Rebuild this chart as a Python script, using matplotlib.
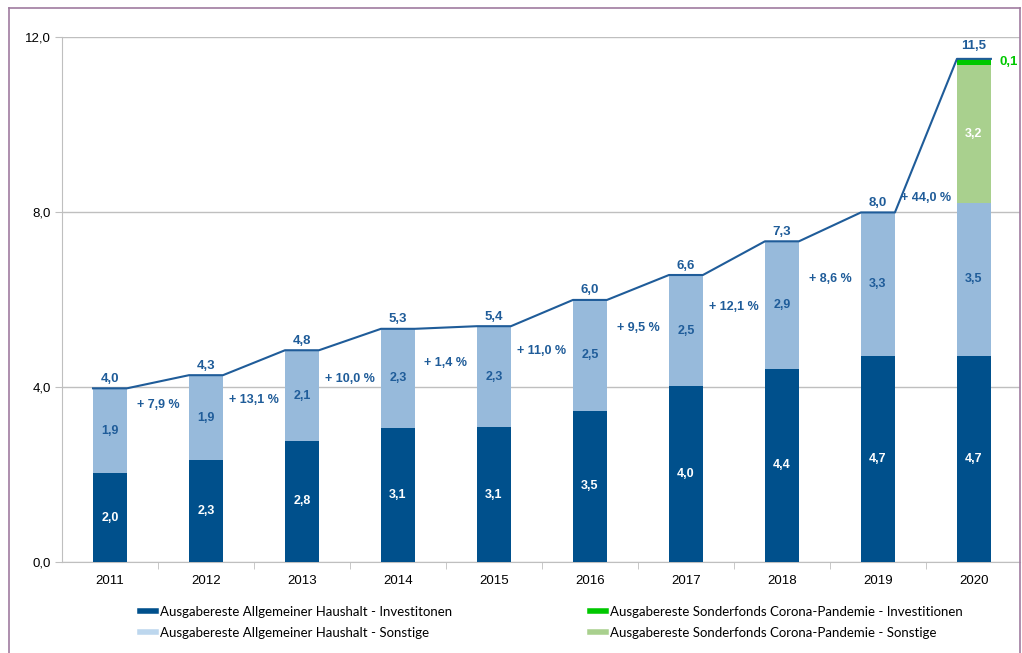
import numpy as np
import matplotlib
matplotlib.use("Agg")
import matplotlib.pyplot as plt
from matplotlib.lines import Line2D
from matplotlib.ticker import FixedLocator, FuncFormatter

plt.rcParams.update({"font.family": ["Liberation Sans", "DejaVu Sans"], "font.size": 9.5})

years = ["2011", "2012", "2013", "2014", "2015", "2016", "2017", "2018", "2019", "2020"]
# values in bn (labels are rounded to one decimal)
ah_invest = [2.03, 2.33, 2.77, 3.07, 3.08, 3.46, 4.02, 4.42, 4.70, 4.72]
ah_sonst = [1.94, 1.94, 2.07, 2.26, 2.31, 2.53, 2.54, 2.91, 3.29, 3.48]
cf_sonst = [0, 0, 0, 0, 0, 0, 0, 0, 0, 3.16]
cf_invest = [0, 0, 0, 0, 0, 0, 0, 0, 0, 0.14]
growth = ["+ 7,9 %", "+ 13,1 %", "+ 10,0 %", "+ 1,4 %", "+ 11,0 %",
          "+ 9,5 %", "+ 12,1 %", "+ 8,6 %", "+ 44,0 %"]
growth_y = [3.59, 3.70, 4.18, 4.55, 4.82, 5.35, 5.83, 6.47, 8.32]

DARK, LIGHT = "#00508C", "#97BADB"
GREEN, LGREEN = "#00C800", "#A9D08E"
LINE, TXT = "#1F5C99", "#1F5C99"

def de(v):
    return f"{v:.1f}".replace(".", ",")

fig = plt.figure(figsize=(10.22, 6.53), dpi=100)
ax = fig.add_axes([62/1022, 1-562/653, (1020-62)/1022, 525/653])

x = np.arange(len(years))
w = 0.354
a = np.array(ah_invest); s = np.array(ah_sonst); c = np.array(cf_sonst); g = np.array(cf_invest)
totals = a + s + c + g
ax.bar(x, a, w, color=DARK, zorder=3)
ax.bar(x, s, w, bottom=a, color=LIGHT, zorder=3)
ax.bar(x, c, w, bottom=a+s, color=LGREEN, zorder=3)
ax.bar(x, g, w, bottom=a+s+c, color=GREEN, zorder=3)

# connecting line over bar tops
lx, ly = [], []
for i, t in enumerate(totals):
    lx += [i - w/2, i + w/2]; ly += [t, t]
ax.plot(lx, ly, color=LINE, lw=1.5, zorder=4)

bold = dict(fontweight="bold", ha="center", va="center", fontsize=9)
for i in x:
    ax.text(i, a[i]/2, de(a[i]), color="white", zorder=5, **bold)
    ax.text(i, a[i] + s[i]/2, de(s[i]), color=TXT, zorder=5, **bold)
    if c[i] > 0:
        ax.text(i, a[i]+s[i]+c[i]/2, de(c[i]), color="white", zorder=5, **bold)
    if g[i] > 0:
        ax.annotate(de(g[i]), (i + w/2, a[i]+s[i]+c[i]+g[i]/2),
                    xytext=(6, 0), textcoords="offset points", color=GREEN,
                    fontweight="bold", ha="left", va="center", fontsize=9.5)
    off = 5 if g[i] > 0 else 2.5
    ax.annotate(de(totals[i]), (i, totals[i]), xytext=(0, off),
                textcoords="offset points", color=TXT, fontweight="bold",
                ha="center", va="bottom", fontsize=9.5)
for i, (lab, yy) in enumerate(zip(growth, growth_y)):
    ax.text(i + 0.5, yy, lab, color=TXT, fontweight="bold", ha="center", va="center", fontsize=9)

ax.set_xlim(-0.5, 9.48)
ax.set_ylim(0, 12)
ax.set_yticks([0, 4, 8, 12])
ax.yaxis.set_major_formatter(FuncFormatter(lambda v, p: de(v)))
ax.yaxis.grid(True, color="#BFBFBF", lw=1)
ax.set_axisbelow(True)
ax.set_xticks(x)
ax.set_xticklabels(years)
ax.xaxis.set_minor_locator(FixedLocator(np.arange(0.5, 9.5, 1)))
ax.tick_params(axis="x", which="major", length=0, pad=9)
ax.tick_params(axis="x", which="minor", length=5, color="#BFBFBF")
ax.tick_params(axis="y", length=5, color="#BFBFBF", pad=3)
for sp in ["top", "right"]:
    ax.spines[sp].set_visible(False)
for sp in ["left", "bottom"]:
    ax.spines[sp].set_color("#BFBFBF")

handles = [Line2D([], [], color=col, lw=4) for col in [DARK, "#BDD7EE", GREEN, LGREEN]]
labels = ["Ausgabereste Allgemeiner Haushalt - Investitonen",
          "Ausgabereste Allgemeiner Haushalt - Sonstige",
          "Ausgabereste Sonderfonds Corona-Pandemie - Investitionen",
          "Ausgabereste Sonderfonds Corona-Pandemie - Sonstige"]
fig.legend(handles, labels, ncol=2, loc="upper left", bbox_to_anchor=(128/1022, 1-594/653),
           frameon=False, prop={"family": ["Lato", "DejaVu Sans"], "size": 9.5},
           handlelength=1.25, handletextpad=0.3, columnspacing=10.4, labelspacing=0.7)

# outer frame
fig.add_artist(Line2D([9/1022, 9/1022], [0, 1-8/653], color="#A07CA0", lw=1.2))
fig.add_artist(Line2D([9/1022, 1020/1022], [1-8/653, 1-8/653], color="#A07CA0", lw=1.2))
fig.add_artist(Line2D([1020/1022, 1020/1022], [0, 1-8/653], color="#A07CA0", lw=1.2))

fig.savefig("out.png", dpi=100)
